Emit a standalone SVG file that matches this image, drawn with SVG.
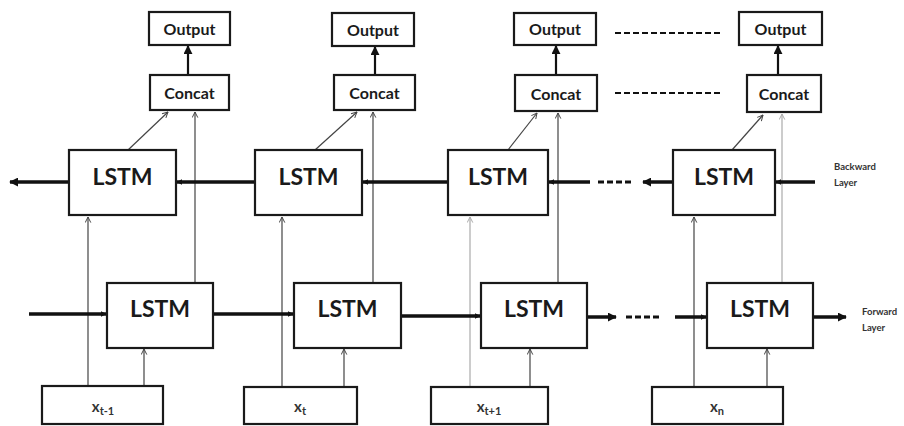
<svg xmlns="http://www.w3.org/2000/svg" width="904" height="426" viewBox="0 0 904 426">
<style>
.box{fill:#fff;stroke:#1a1a1a;stroke-width:2.2}
.lbl{font-family:Lato,"Open Sans","Liberation Sans",sans-serif;font-weight:bold;fill:#1a1a1a;text-anchor:middle}
.lstm{font-size:23px}
.small{font-size:16px}
.inp{font-family:Lato,"Open Sans","Liberation Sans",sans-serif;font-weight:bold;font-size:15px;fill:#333;text-anchor:middle}
.side{font-family:Lato,"Open Sans","Liberation Sans",sans-serif;font-weight:bold;font-size:9.5px;fill:#333}
.thick{stroke:#111;stroke-width:3.5;fill:none}
.mid{stroke:#111;stroke-width:2.2;fill:none}
.thin{stroke:#444;stroke-width:1.2;fill:none}
.light{stroke:#aaa;stroke-width:1.2;fill:none}
.dash{stroke:#111;stroke-width:2;stroke-dasharray:6 3;fill:none}
.dashb{stroke:#111;stroke-width:3;stroke-dasharray:6 3;fill:none}
</style>
<defs>
<marker id="open" viewBox="0 0 10 10" refX="9" refY="5" markerWidth="7" markerHeight="7" markerUnits="userSpaceOnUse" orient="auto">
<path d="M1,1 L9,5 L1,9" fill="none" stroke="#444" stroke-width="1.4"/>
</marker>
<marker id="openl" viewBox="0 0 10 10" refX="9" refY="5" markerWidth="7" markerHeight="7" markerUnits="userSpaceOnUse" orient="auto">
<path d="M1,1 L9,5 L1,9" fill="none" stroke="#aaa" stroke-width="1.4"/>
</marker>
<marker id="fill" viewBox="0 0 10 10" refX="9" refY="5" markerWidth="9" markerHeight="9" markerUnits="userSpaceOnUse" orient="auto">
<path d="M0,0 L10,5 L0,10 Z" fill="#111"/>
</marker>
<marker id="tick" viewBox="0 0 10 10" refX="9" refY="5" markerWidth="6" markerHeight="7" markerUnits="userSpaceOnUse" orient="auto">
<path d="M0,0 L10,5 L0,10 Z" fill="#111"/>
</marker>
</defs>

<g id="connectors">
<line class="mid" x1="188" y1="75" x2="188" y2="46" marker-end="url(#fill)"/>
<line class="mid" x1="375" y1="75" x2="375" y2="47" marker-end="url(#fill)"/>
<line class="mid" x1="556" y1="75" x2="556" y2="46" marker-end="url(#fill)"/>
<line class="mid" x1="778" y1="75" x2="778" y2="46" marker-end="url(#fill)"/>
<line class="dash" x1="615" y1="33" x2="723" y2="33"/>
<line class="dash" x1="615" y1="93" x2="723" y2="93"/>
<line class="thin" x1="128" y1="150" x2="168" y2="112" marker-end="url(#open)"/>
<line class="thin" x1="315" y1="150" x2="357" y2="112" marker-end="url(#open)"/>
<line class="thin" x1="508" y1="150" x2="537" y2="113" marker-end="url(#open)"/>
<line class="thin" x1="732" y1="150" x2="763" y2="115" marker-end="url(#open)"/>
<line class="thin" x1="195" y1="283" x2="195" y2="112" marker-end="url(#open)"/>
<line class="thin" x1="373" y1="283" x2="373" y2="112" marker-end="url(#open)"/>
<line class="thin" x1="558" y1="283" x2="558" y2="113" marker-end="url(#open)"/>
<line class="light" x1="782" y1="283" x2="782" y2="114" marker-end="url(#openl)"/>
<line class="thin" x1="88" y1="386" x2="88" y2="217" marker-end="url(#open)"/>
<line class="thin" x1="282" y1="387" x2="282" y2="217" marker-end="url(#open)"/>
<line class="light" x1="470" y1="387" x2="470" y2="217" marker-end="url(#openl)"/>
<line class="thin" x1="694" y1="387" x2="694" y2="217" marker-end="url(#open)"/>
<line class="thin" x1="144" y1="386" x2="144" y2="349" marker-end="url(#open)"/>
<line class="thin" x1="344" y1="387" x2="344" y2="349" marker-end="url(#open)"/>
<line class="thin" x1="530" y1="387" x2="530" y2="349" marker-end="url(#open)"/>
<line class="thin" x1="767" y1="387" x2="767" y2="349" marker-end="url(#open)"/>
<line class="thick" x1="68" y1="182" x2="10" y2="182" marker-end="url(#fill)"/>
<line class="thick" x1="255" y1="182" x2="177" y2="182" marker-end="url(#tick)"/>
<line class="thick" x1="448" y1="182" x2="363" y2="182" marker-end="url(#tick)"/>
<line class="thick" x1="590" y1="182" x2="549" y2="182" marker-end="url(#tick)"/>
<line class="dashb" x1="598" y1="182" x2="632" y2="182"/>
<line class="thick" x1="672" y1="182" x2="643" y2="182" marker-end="url(#fill)"/>
<line class="thick" x1="815" y1="182" x2="776" y2="182" marker-end="url(#tick)"/>
<line class="thick" x1="29" y1="314" x2="106" y2="314" marker-end="url(#tick)"/>
<line class="thick" x1="214" y1="314" x2="293" y2="314" marker-end="url(#tick)"/>
<line class="thick" x1="402" y1="316" x2="480" y2="316" marker-end="url(#tick)"/>
<line class="thick" x1="588" y1="317" x2="616" y2="317" marker-end="url(#fill)"/>
<line class="dashb" x1="626" y1="317" x2="660" y2="317"/>
<line class="thick" x1="675" y1="317" x2="706" y2="317" marker-end="url(#tick)"/>
<line class="thick" x1="814" y1="317" x2="846" y2="317" marker-end="url(#fill)"/>
</g>

<g id="output1"><rect class="box" x="149" y="12" width="81" height="33"/><text class="lbl small" x="189.5" y="35">Output</text></g>
<g id="output2"><rect class="box" x="332" y="13" width="82" height="33"/><text class="lbl small" x="373" y="36">Output</text></g>
<g id="output3"><rect class="box" x="514" y="13" width="82" height="32"/><text class="lbl small" x="555" y="35">Output</text></g>
<g id="output4"><rect class="box" x="739" y="12" width="83" height="33"/><text class="lbl small" x="780.5" y="35">Output</text></g>

<g id="concat1"><rect class="box" x="150" y="75" width="79" height="35"/><text class="lbl small" x="189.5" y="99">Concat</text></g>
<g id="concat2"><rect class="box" x="334" y="75" width="81" height="35"/><text class="lbl small" x="374.5" y="99">Concat</text></g>
<g id="concat3"><rect class="box" x="515" y="75" width="82" height="36"/><text class="lbl small" x="556" y="100">Concat</text></g>
<g id="concat4"><rect class="box" x="747" y="75" width="74" height="37"/><text class="lbl small" x="784" y="100">Concat</text></g>

<g id="blstm1"><rect class="box" x="69" y="150" width="107" height="65"/><text class="lbl lstm" x="122.5" y="185">LSTM</text></g>
<g id="blstm2"><rect class="box" x="255" y="150" width="107" height="65"/><text class="lbl lstm" x="308.5" y="185">LSTM</text></g>
<g id="blstm3"><rect class="box" x="448" y="150" width="100" height="65"/><text class="lbl lstm" x="498" y="185">LSTM</text></g>
<g id="blstm4"><rect class="box" x="673" y="150" width="102" height="65"/><text class="lbl lstm" x="724" y="185">LSTM</text></g>

<g id="flstm1"><rect class="box" x="107" y="283" width="106" height="65"/><text class="lbl lstm" x="160" y="317">LSTM</text></g>
<g id="flstm2"><rect class="box" x="294" y="283" width="107" height="65"/><text class="lbl lstm" x="347.5" y="317">LSTM</text></g>
<g id="flstm3"><rect class="box" x="481" y="283" width="106" height="65"/><text class="lbl lstm" x="534" y="317">LSTM</text></g>
<g id="flstm4"><rect class="box" x="707" y="283" width="106" height="65"/><text class="lbl lstm" x="760" y="317">LSTM</text></g>

<g id="input1"><rect class="box" x="42" y="386" width="121" height="38"/><text class="inp" x="103" y="412">x<tspan font-size="11" dy="3">t-1</tspan></text></g>
<g id="input2"><rect class="box" x="244" y="387" width="113" height="37"/><text class="inp" x="300" y="412">x<tspan font-size="11" dy="3">t</tspan></text></g>
<g id="input3"><rect class="box" x="431" y="387" width="117" height="37"/><text class="inp" x="489" y="412">x<tspan font-size="11" dy="3">t+1</tspan></text></g>
<g id="input4"><rect class="box" x="652" y="387" width="131" height="37"/><text class="inp" x="717" y="412">x<tspan font-size="11" dy="3">n</tspan></text></g>

<g id="backward-label"><text class="side" x="834" y="170">Backward</text><text class="side" x="834" y="186">Layer</text></g>
<g id="forward-label"><text class="side" x="862" y="315">Forward</text><text class="side" x="862" y="331">Layer</text></g>
</svg>
